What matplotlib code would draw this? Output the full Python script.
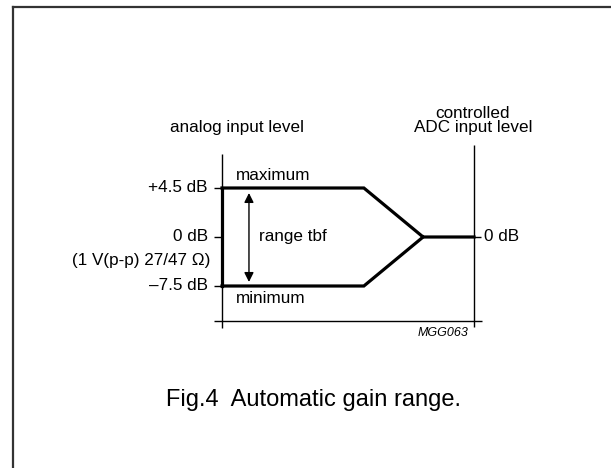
import matplotlib
matplotlib.use("Agg")
import matplotlib.pyplot as plt
from matplotlib.lines import Line2D

plt.rcParams['font.family'] = ['Liberation Sans', 'DejaVu Sans']

# schematic levels (position on the drawing, label)
level_pos = [1.0, 0.0, -1.0]
level_labels = ['+4.5 dB', '0 dB', '\u20137.5 dB']
level_names = ['maximum', None, 'minimum']

# gain path: input range at x=0, kinks, merge point, output axis at x=1
kink_x = 0.563
merge_x = 0.798
out_x = 1.0
out_label = '0 dB'

fig = plt.figure(figsize=(6.11, 4.68), dpi=100)
ax = fig.add_axes([0, 0, 1, 1])
# x: 0 = input axis, 1 = output axis; y: schematic level units
ax.set_xlim(-222 / 252, 389 / 252)
ax.set_ylim((237 - 468) / 49, 237 / 49)
ax.axis('off')

# page frame (left and top edges only)
fig.add_artist(Line2D([13 / 611, 13 / 611], [0, 1 - 7 / 468], color='#333333', lw=1.6))
fig.add_artist(Line2D([13 / 611, 1], [1 - 7 / 468, 1 - 7 / 468], color='#333333', lw=1.6))

thin = dict(color='black', lw=1.0, solid_capstyle='butt')
bold = dict(color='black', lw=2.3, solid_capstyle='projecting', solid_joinstyle='miter')

# axes lines
ax.plot([0, 0], [1.694, -1.857], **thin)
ax.plot([out_x, out_x], [1.878, -1.837], **thin)
ax.plot([-0.032, 1.032], [-1.714, -1.714], **thin)

# ticks and level labels
for pos, lab in zip(level_pos, level_labels):
    ax.plot([-0.03, 0], [pos, pos], **thin)
    ax.text(-0.056, pos, lab, ha='right', va='center', fontsize=12.3)
ax.text(-0.048, -0.47, '(1 V(p-p) 27/47 \u03a9)', ha='right', va='center', fontsize=12.3)
ax.plot([out_x, out_x + 0.028], [0, 0], **thin)
ax.text(out_x + 0.04, 0, out_label, ha='left', va='center', fontsize=12.3)

# bold gain path
top, mid, bot = level_pos
ax.plot([0, 0], [top, bot], **bold)
ax.plot([0, kink_x, merge_x, out_x], [top, top, mid, mid], **bold)
ax.plot([0, kink_x, merge_x], [bot, bot, mid], **bold)

for pos, name in zip(level_pos, level_names):
    if name:
        dy = 0.265 if pos > 0 else -0.265
        ax.text(0.056, pos + dy, name, ha='left', va='center', fontsize=12.3)

# range arrow
ax.annotate('', xy=(0.107, -0.918), xytext=(0.107, 0.898),
            arrowprops=dict(arrowstyle='<|-|>', color='black', lw=1.0,
                            mutation_scale=14, shrinkA=0, shrinkB=0))
ax.text(0.147, 0, 'range tbf', ha='left', va='center', fontsize=12.3)

# headings
ax.text(0.06, 2.244, 'analog input level', ha='center', va='center', fontsize=12.3)
ax.text(0.996, 2.53, 'controlled', ha='center', va='center', fontsize=12.3)
ax.text(0.996, 2.244, 'ADC input level', ha='center', va='center', fontsize=12.3)

ax.text(0.98, -1.96, 'MGG063', ha='right', va='center', fontsize=9, style='italic')

ax.text((314 - 222) / 252, (237 - 400) / 49, 'Fig.4  Automatic gain range.',
        ha='center', va='center', fontsize=17)

fig.savefig('out.png', dpi=100)
